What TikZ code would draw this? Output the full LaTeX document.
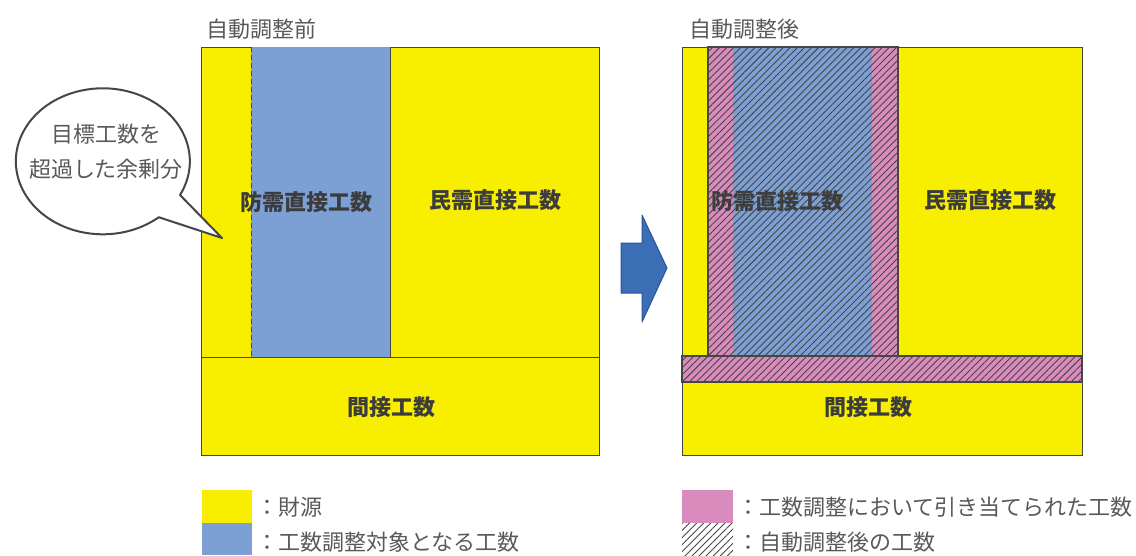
\documentclass[tikz,border=0pt]{standalone}
\usepackage{fontspec}
\setmainfont{Noto Sans CJK JP}
\usetikzlibrary{patterns.meta}
\definecolor{yel}{RGB}{248,238,0}
\definecolor{blu}{RGB}{124,159,212}
\definecolor{pnk}{RGB}{218,139,189}
\definecolor{arr}{RGB}{60,110,182}
\definecolor{arrd}{RGB}{40,85,155}
\definecolor{txt}{RGB}{60,60,60}
\definecolor{edge}{RGB}{70,70,70}
\begin{document}
\begin{tikzpicture}[x=1pt,y=-1pt,
  lbl/.style={font=\fontsize{22}{26}\selectfont\bfseries, text=txt, inner sep=0},
  ttl/.style={font=\fontsize{22}{26}\selectfont, text=txt!85, inner sep=0, anchor=west},
  box/.style={fill=yel, draw=edge, line width=1pt},
  hatch/.style={pattern={Lines[angle=45,distance=5pt,line width=0.9pt]}, pattern color=edge},
  tbar/.style={draw=edge, line width=2.5pt},
]
\useasboundingbox (0,0) rectangle (1136,555);

% ---------- left diagram ----------
\node[ttl] (tl) at (206,29) {自動調整前};
\path[box] (201,47) rectangle (599,455);
\fill[blu] (251,47) rectangle (390,357);
\draw[edge, line width=1pt] (390,47) -- (390,357);
\draw[edge, line width=1pt, dashed, dash pattern=on 5pt off 3pt] (251,47) -- (251,357);
\draw[edge, line width=1pt] (201,357) -- (599,357);
\node[lbl] (ldef) at (306,202) {防需直接工数};
\node[lbl] (lciv) at (495,200) {民需直接工数};
\node[lbl] (lind) at (391,407) {間接工数};

% speech bubble
\draw[edge, line width=2pt, fill=white, line join=round]
  (222,238) -- (180,195)
  arc[start angle=27.5, end angle=-310, x radius=87, y radius=73] -- cycle;
\node[font=\fontsize{22}{35}\selectfont, text=txt!85, align=center, inner sep=0] (bub) at (106,152) {目標工数を\\超過した余剰分};

% ---------- arrow ----------
\fill[arr, draw=arrd, line width=1pt, line join=round]
  (621,243) -- (642,243) -- (642,215) -- (667,268) -- (642,322) -- (642,293) -- (621,293) -- cycle;

% ---------- right diagram ----------
\node[ttl] (tr) at (689,29) {自動調整後};
\path[box] (682,47) rectangle (1082,455);
\fill[pnk] (708,47) rectangle (898,356);
\fill[blu] (733,47) rectangle (872,356);
\node[lbl] (rdef) at (777,201) {防需直接工数};
\path[hatch] (708,47) rectangle (898,356);
\draw[tbar] (708,47) rectangle (898,356);
\fill[pnk] (682,356) rectangle (1082,382);
\path[hatch] (682,356) rectangle (1082,382);
\draw[tbar] (682,356) rectangle (1082,382);
\node[lbl] (rciv) at (990,200) {民需直接工数};
\node[lbl] (rind) at (868,407) {間接工数};

% ---------- legend ----------
\fill[yel] (202,490) rectangle (252,523);
\fill[blu] (202,523) rectangle (252,555);
\node[ttl] (lg1) at (256,507) {：財源};
\node[ttl] (lg2) at (256,542) {：工数調整対象となる工数};
\fill[pnk] (682,490) rectangle (733,523);
\path[hatch] (682,523) rectangle (733,555);
\node[ttl] (lg3) at (737,507) {：工数調整において引き当てられた工数};
\node[ttl] (lg4) at (737,542) {：自動調整後の工数};
\end{tikzpicture}
\end{document}
